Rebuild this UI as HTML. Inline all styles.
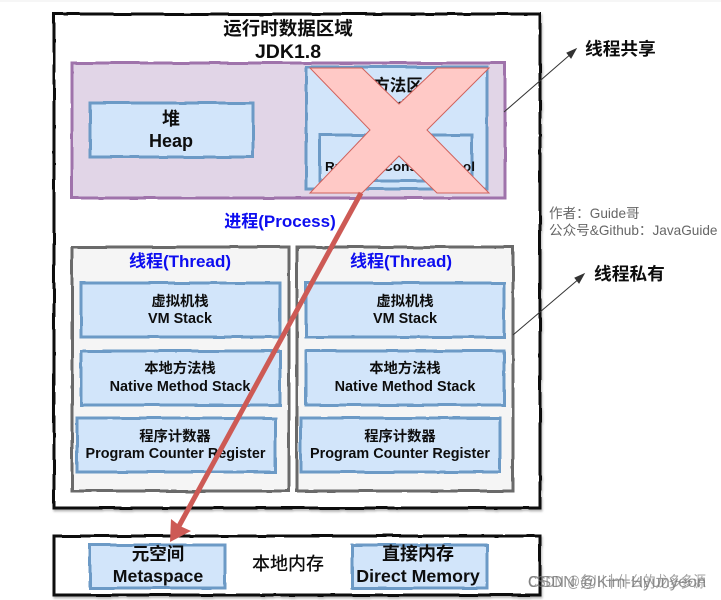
<!DOCTYPE html>
<html><head><meta charset="utf-8">
<style>
html,body{margin:0;padding:0;background:#fff;width:721px;height:600px;overflow:hidden}
svg{display:block}
text{font-family:"Liberation Sans","Noto Sans CJK SC",sans-serif}
.b{font-weight:700;fill:#111}
.m{text-anchor:middle}
.blue{font-weight:700;fill:#0a0af0;font-size:17px;text-anchor:middle}
.box{fill:#d2e5fa;stroke:#6c9ac6;stroke-width:3}
</style></head>
<body>
<svg width="721" height="600" viewBox="0 0 721 600" xmlns="http://www.w3.org/2000/svg">
<defs>
<filter id="s" x="-5%" y="-5%" width="110%" height="110%">
<feTurbulence type="fractalNoise" baseFrequency="0.035" numOctaves="2" seed="4" result="n"/>
<feDisplacementMap in="SourceGraphic" in2="n" scale="2.4" result="d"/>
<feGaussianBlur in="d" stdDeviation="0.3" result="g"/>
<feDropShadow in="g" dx="1" dy="2" stdDeviation="1" flood-color="#000" flood-opacity="0.28"/>
</filter>
<filter id="t" x="-5%" y="-5%" width="110%" height="110%"><feGaussianBlur stdDeviation="0.3"/></filter>
</defs>
<rect x="0" y="0" width="721" height="2" fill="#f6f6f6"/>

<g filter="url(#s)">
<rect x="54" y="14" width="486" height="494" fill="#fff" stroke="#0c0c0c" stroke-width="3"/>
<rect x="54" y="536" width="486" height="59" fill="#fff" stroke="#0c0c0c" stroke-width="3"/>
<rect x="72" y="63" width="433" height="135" fill="#e1d5e7" stroke="#9f73ab" stroke-width="3"/>
<rect x="90" y="103" width="163" height="54" class="box"/>
<rect x="306" y="67" width="181" height="122" class="box"/>
<rect x="320" y="135" width="152" height="46" class="box"/>
<rect x="72" y="247" width="217" height="244" fill="#f5f5f5" stroke="#6a6a6a" stroke-width="3"/>
<rect x="297" y="247" width="216" height="244" fill="#f5f5f5" stroke="#6a6a6a" stroke-width="3"/>
<rect x="81" y="283" width="199" height="54" class="box"/>
<rect x="81" y="351" width="199" height="54" class="box"/>
<rect x="77" y="418" width="198" height="54" class="box"/>
<rect x="306" y="283" width="198" height="54" class="box"/>
<rect x="306" y="351" width="198" height="54" class="box"/>
<rect x="301" y="418" width="199" height="54" class="box"/>
<rect x="90" y="545" width="135" height="43" class="box"/>
<rect x="352" y="545" width="135" height="43" class="box"/>
</g>

<g filter="url(#t)">
<text class="b m" x="288" y="35" font-size="18.5">运行时数据区域</text>
<text class="b m" x="288" y="58" font-size="19.5">JDK1.8</text>
<text class="b m" x="171" y="125" font-size="18">堆</text>
<text class="b m" x="171" y="147" font-size="18">Heap</text>
<text class="b m" x="398" y="91" font-size="16.5">方法区</text>
<text class="b m" x="398" y="109" font-size="14">Method Area</text>
<text class="b m" x="396" y="152" font-size="13">运行时常量池</text>
<text class="b m" x="400" y="171" font-size="12.5" textLength="150" lengthAdjust="spacingAndGlyphs">Runtime Constant Pool</text>
<text class="blue" x="280" y="227">进程(Process)</text>
<text class="blue" x="180" y="267">线程(Thread)</text>
<text class="blue" x="401" y="267">线程(Thread)</text>

<text class="b m" x="180" y="306" font-size="14.3">虚拟机栈</text>
<text class="b m" x="180" y="323" font-size="14.4">VM Stack</text>
<text class="b m" x="180" y="373" font-size="14.3">本地方法栈</text>
<text class="b m" x="180" y="391" font-size="14.4">Native Method Stack</text>
<text class="b m" x="175" y="441" font-size="14.3">程序计数器</text>
<text class="b m" x="175.5" y="458" font-size="14.4">Program Counter Register</text>
<text class="b m" x="405" y="306" font-size="14.3">虚拟机栈</text>
<text class="b m" x="405" y="323" font-size="14.4">VM Stack</text>
<text class="b m" x="405" y="373" font-size="14.3">本地方法栈</text>
<text class="b m" x="405" y="391" font-size="14.4">Native Method Stack</text>
<text class="b m" x="400" y="441" font-size="14.3">程序计数器</text>
<text class="b m" x="400" y="458" font-size="14.4">Program Counter Register</text>

<text class="b m" x="158" y="560" font-size="17.5">元空间</text>
<text class="b m" x="158" y="582" font-size="17.7">Metaspace</text>
<text class="b m" x="288" y="570" font-size="18" style="font-weight:500">本地内存</text>
<text class="b m" x="418" y="560" font-size="18">直接内存</text>
<text class="b m" x="418" y="582" font-size="17.8">Direct Memory</text>

<text class="b" x="585" y="55" font-size="17.7">线程共享</text>
<text class="b" x="594" y="280" font-size="17.7">线程私有</text>
<text x="549" y="218" font-size="13.6" fill="#666">作者：Guide哥</text>
<text x="549" y="235" font-size="13.6" fill="#666">公众号&amp;Github：JavaGuide</text>
</g>

<polygon points="310,68 362,68 399,104 437,68 489,68 427,130 489,193 437,193 399,156 362,193 310,193 370,130" fill="#ffc9c6" stroke="#d0625c" stroke-width="1"/>

<line x1="361" y1="193" x2="179" y2="526" stroke="#cd5a55" stroke-width="5"/>
<polygon points="170,542 171,519 180,526 191,531" fill="#cd5a55"/>

<g stroke="#333" stroke-width="1" fill="#333">
<line x1="504" y1="112" x2="572" y2="53"/>
<polygon points="576,49 571,58 567,53"/>
<line x1="513" y1="335" x2="580" y2="278"/>
<polygon points="584,274 579,283 575,278"/>
</g>

<g filter="url(#t)" font-size="15.5">
<text x="528" y="587" fill="#777" fill-opacity="0.8" textLength="178" lengthAdjust="spacingAndGlyphs">CSDN @Kim-Hyunyeon</text>
<text x="528" y="587" fill="#777" fill-opacity="0.7" textLength="178" lengthAdjust="spacingAndGlyphs">CSDN @务川十什么的龙多多源</text>
</g>
</svg>
</body></html>
